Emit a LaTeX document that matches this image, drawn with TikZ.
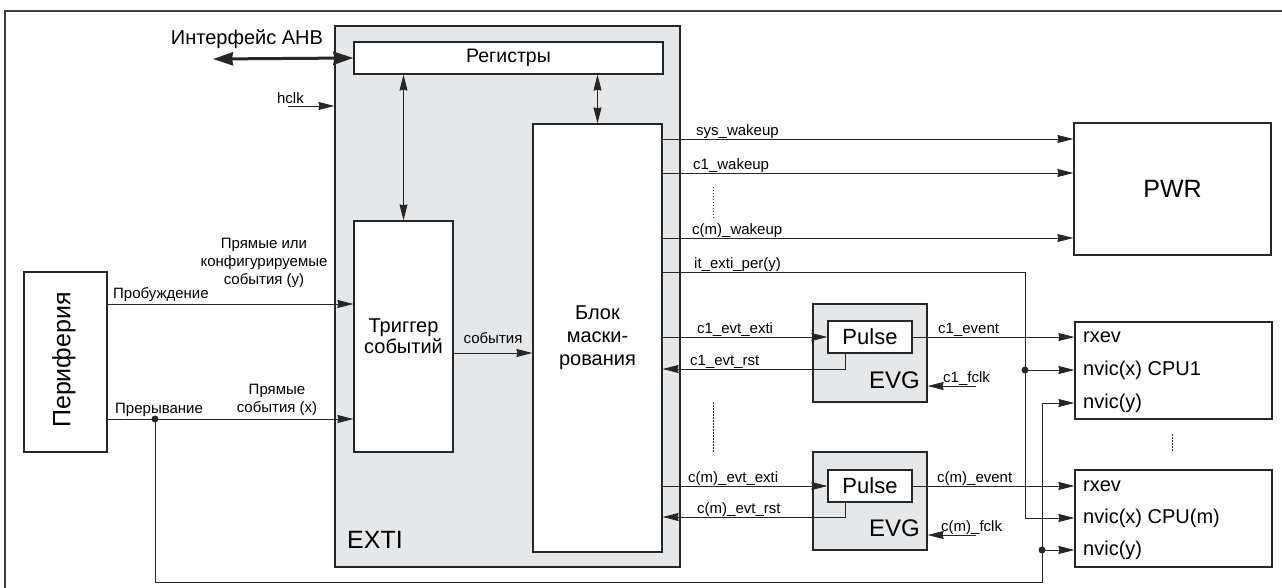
\documentclass[tikz,border=0pt]{standalone}
\usepackage{fontspec}
\setmainfont{Liberation Sans}
\usepackage{tikz}
\usetikzlibrary{arrows.meta, positioning, calc}
\usepackage{xcolor}

\definecolor{extigray}{RGB}{230,231,233}
\definecolor{wire}{RGB}{38,38,38}

\tikzset{
    blk/.style={draw=wire, line width=1.2pt, fill=white, inner sep=0pt, align=center},
    grayblk/.style={blk, fill=extigray},
    sig/.style={draw=wire, line width=0.9pt, -{Stealth[length=16pt,width=8pt,inset=1pt]}},
    bisig/.style={draw=wire, line width=0.9pt, {Stealth[length=16pt,width=8pt,inset=1pt]}-{Stealth[length=16pt,width=8pt,inset=1pt]}},
    ahb/.style={draw=wire, line width=3pt, {Stealth[length=20pt,width=13pt,inset=1pt]}-{Stealth[length=20pt,width=13pt,inset=1pt]}},
    lbl/.style={inner sep=0pt, font=\fontsize{15}{18}\selectfont},
    big/.style={inner sep=0pt, font=\fontsize{20}{23}\selectfont},
    huge/.style={inner sep=0pt, font=\fontsize{25}{30}\selectfont},
    row/.style={big, anchor=west, text height=15pt, text depth=4.6pt},
    dot/.style={circle, fill=wire, inner sep=0pt, minimum size=7pt},
    dots/.style={draw=wire, line width=0.8pt, dash pattern=on 1.5pt off 1.5pt},
}

\begin{document}
\begin{tikzpicture}[x=1pt, y=-1pt]
    \useasboundingbox (0,0) rectangle (1282,588);
    \draw[line width=1.5pt, draw=black!75] (5,588) -- (5,11) -- (1282,11);

    % EXTI block
    \node[grayblk, minimum width=345pt, minimum height=541pt] (exti) at (507.5,296.5) {};
    \node[huge, anchor=base west] (extilbl) at (347,548) {EXTI};
    \node[blk, minimum width=309pt, minimum height=32pt, font=\fontsize{19.5}{23}\selectfont] (regs) at (508.5,58) {Регистры};
    \node[blk, minimum width=99pt, minimum height=231pt, font=\fontsize{20}{21}\selectfont] (trig) at (403.5,336.5) {Триггер\\событий};
    \node[blk, minimum width=129pt, minimum height=428pt, font=\fontsize{20}{23}\selectfont] (mask) at (597.5,338) {Блок\\маски-\\рования};

    % periphery
    \node[blk, minimum width=83pt, minimum height=180pt] (periph) at (65.5,362) {};
    \node[huge, rotate=90] (periphlbl) at (64,360) {Периферия};

    % PWR and CPUs
    \node[blk, minimum width=197pt, minimum height=132pt, font=\fontsize{25}{30}\selectfont] (pwr) at (1172.5,189) {PWR};
    \node[blk, minimum width=197pt, minimum height=97pt] (cpu1) at (1173.5,370.5) {};
    \node[row] (c1rx) at (1083,337) {rxev};
    \node[row] (c1nx) at (1083,370) {nvic(x) CPU1};
    \node[row] (c1ny) at (1083,403) {nvic(y)};
    \node[blk, minimum width=197pt, minimum height=97pt] (cpum) at (1173.5,518.5) {};
    \node[row] (cmrx) at (1083,486) {rxev};
    \node[row] (cmnx) at (1083,518) {nvic(x) CPU(m)};
    \node[row] (cmny) at (1083,550) {nvic(y)};

    % EVG blocks
    \node[grayblk, minimum width=114pt, minimum height=98pt] (evga) at (870,353) {};
    \node[blk, minimum width=84pt, minimum height=32pt, font=\fontsize{22}{26}\selectfont] (pulsea) at (870,337) {Pulse};
    \node[huge, anchor=base east, font=\fontsize{24}{28}\selectfont] (evgalbl) at (920,388) {EVG};
    \node[grayblk, minimum width=114pt, minimum height=98pt] (evgb) at (870,501) {};
    \node[blk, minimum width=84pt, minimum height=32pt, font=\fontsize{22}{26}\selectfont] (pulseb) at (870,486) {Pulse};
    \node[huge, anchor=base east, font=\fontsize{24}{28}\selectfont] (evgblbl) at (920,536) {EVG};

    % AHB and clock
    \coordinate (ahbin) at (213,59);
    \draw[ahb] (ahbin) -- (regs.west);
    \node[big] (ahblbl) at (247,39) {Интерфейс AHB};
    \coordinate (hclkin) at (288,106);
    \draw[sig] (hclkin) -- (exti.west |- hclkin);
    \node[lbl, anchor=base east] (hclklbl) at (304,104) {hclk};

    % register access
    \draw[bisig] (regs.south -| trig) -- (trig.north);
    \draw[bisig] (regs.south -| mask) -- (mask.north);

    % inputs from periphery
    \draw[sig] (periph.east |- 0,304) -- (trig.west |- 0,304);
    \node[lbl, anchor=base west] (wakelbl) at (113,298) {Пробуждение};
    \node[lbl, align=center] (cfglbl) at (264,263) {Прямые или\\конфигурируемые\\события (y)};
    \node[dot] (irqdot) at (155,419) {};
    \draw[sig] (periph.east |- irqdot) -- (trig.west |- irqdot);
    \node[lbl, anchor=base west] (irqlbl) at (115,413) {Прерывание};
    \node[lbl, align=center] (directlbl) at (277,400) {Прямые\\события (x)};

    % trigger to mask
    \draw[sig] (trig.east |- 0,353) -- (mask.west |- 0,353);
    \node[lbl, anchor=base] (evtlbl) at (493,343) {события};

    % wakeups
    \draw[sig] (mask.east |- 0,139) -- (pwr.west |- 0,139);
    \node[lbl, anchor=base west] (syswk) at (696,135.5) {sys\_wakeup};
    \draw[sig] (mask.east |- 0,173) -- (pwr.west |- 0,173);
    \node[lbl, anchor=base west] (c1wk) at (693,169.5) {c1\_wakeup};
    \draw[dots] (713,187) -- (713,220);
    \draw[sig] (mask.east |- 0,238) -- (pwr.west |- 0,238);
    \node[lbl, anchor=base west] (cmwk) at (692,234.5) {c(m)\_wakeup};

    % it_exti_per(y)
    \node[dot] (xdot) at (1025,370) {};
    \draw[sig] (mask.east |- 0,272) -| (xdot.center) |- (cpum.west |- cmnx);
    \draw[sig] (xdot.center) -- (cpu1.west |- c1nx);
    \node[lbl, anchor=base west] (perlbl) at (694,268.5) {it\_exti\_per(y)};

    % interrupt wire to nvic(y)
    \node[dot] (ydot) at (1042,550) {};
    \draw[sig] (irqdot.center) -- ++(0,163) -| (ydot.center) |- (cpu1.west |- c1ny);
    \draw[sig] (ydot.center) -- (cpum.west |- cmny);

    % CPU1 events
    \draw[sig] (mask.east |- pulsea) -- (pulsea.west);
    \node[lbl, anchor=base west] (c1exti) at (697,333) {c1\_evt\_exti};
    \draw[sig] ([xshift=18pt]pulsea.south west) |- (mask.east |- 0,369);
    \node[lbl, anchor=base west] (c1rst) at (690,365) {c1\_evt\_rst};
    \draw[sig] (pulsea.east) -- (cpu1.west |- c1rx);
    \node[lbl, anchor=base west] (c1evt) at (938,333) {c1\_event};
    \coordinate (fclka) at (976,386);
    \draw[sig] (fclka) -- (evga.east |- fclka);
    \node[lbl, anchor=base west] (c1fclk) at (943,382) {c1\_fclk};

    \draw[dots] (713,402) -- (713,452);
    \draw[dots] (1172,434) -- (1172,452);

    % CPU(m) events
    \draw[sig] (mask.east |- pulseb) -- (pulseb.west);
    \node[lbl, anchor=base west] (cmexti) at (688,482) {c(m)\_evt\_exti};
    \draw[sig] ([xshift=18pt]pulseb.south west) |- (mask.east |- 0,517);
    \node[lbl, anchor=base west] (cmrst) at (697,513) {c(m)\_evt\_rst};
    \draw[sig] (pulseb.east) -- (cpum.west |- cmrx);
    \node[lbl, anchor=base west] (cmevt) at (937,482) {c(m)\_event};
    \coordinate (fclkb) at (976,535);
    \draw[sig] (fclkb) -- (evgb.east |- fclkb);
    \node[lbl, anchor=base west] (cmfclk) at (941,531) {c(m)\_fclk};
\end{tikzpicture}
\end{document}
